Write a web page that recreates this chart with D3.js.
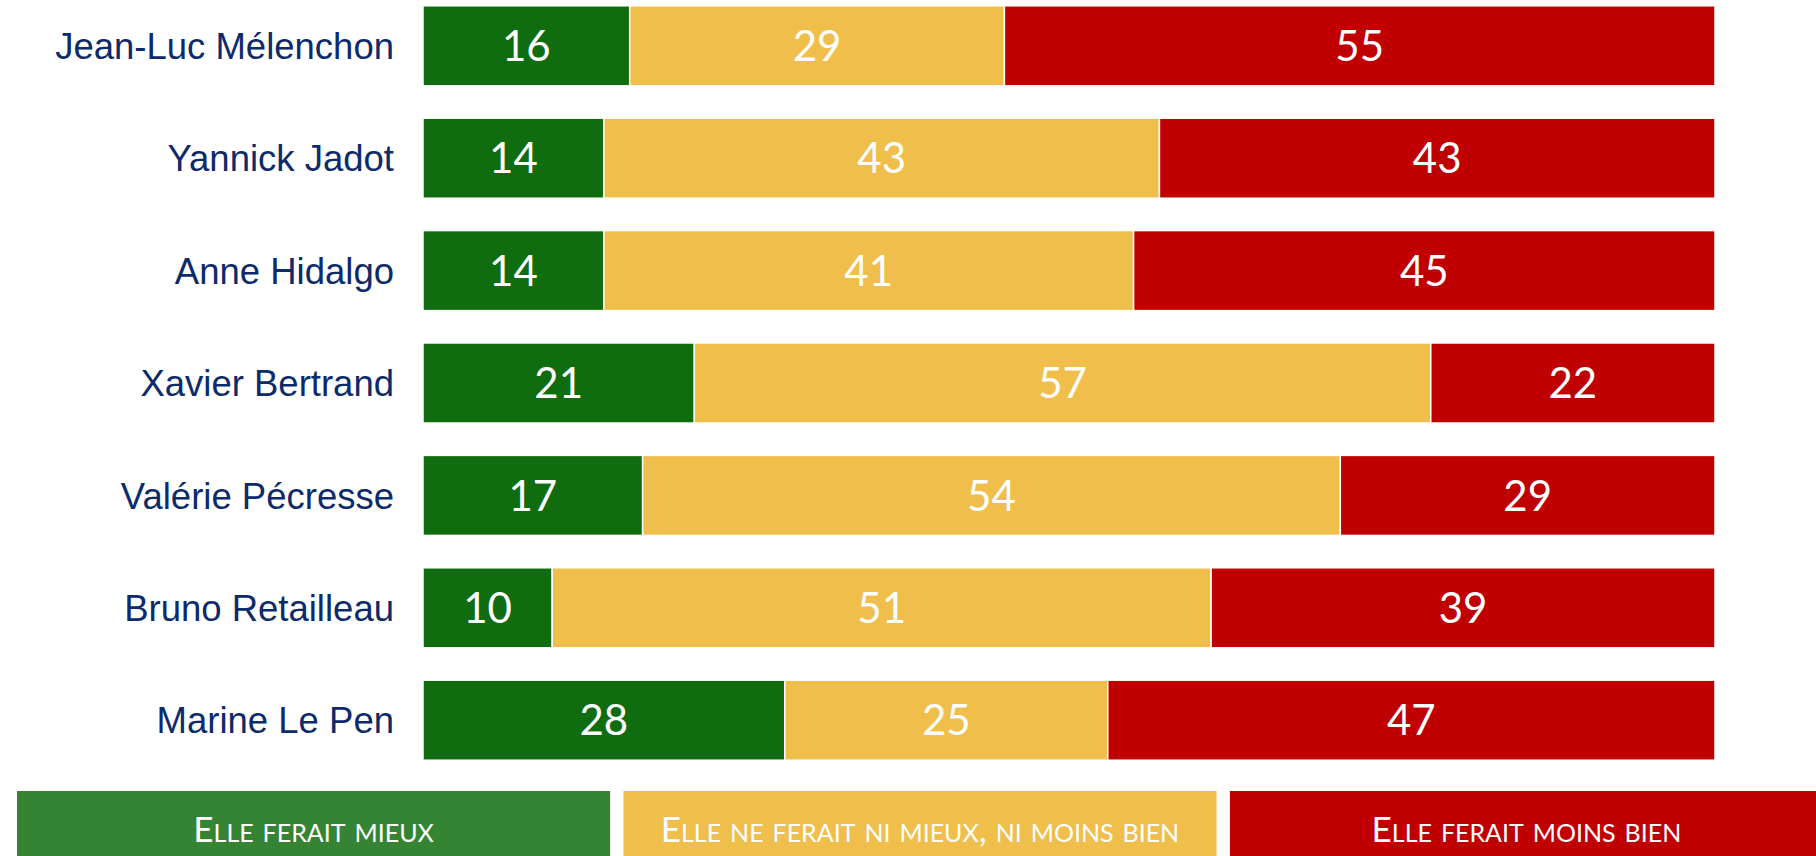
<!DOCTYPE html>
<html>
<head>
<meta charset="utf-8">
<title>Elle ferait mieux / moins bien</title>
<script src="https://d3js.org/d3.v7.min.js"></script>
<style>
    body { margin: 0; background: #fff; }
    svg { display: block; }
</style>
</head>
<body>
<div id="chart"></div>
<script>

// data
var names = ["Jean-Luc Mélenchon", "Yannick Jadot", "Anne Hidalgo", "Xavier Bertrand",
             "Valérie Pécresse", "Bruno Retailleau", "Marine Le Pen"]
var mieux = [16, 14, 14, 21, 17, 10, 28]
var niNi = [29, 43, 41, 57, 54, 51, 25]
var moins = [55, 43, 45, 22, 29, 39, 47]
var seriesKeys = ["mieux", "ni", "moins"]
var seriesLabels = ["Elle ferait mieux", "Elle ne ferait ni mieux, ni moins bien", "Elle ferait moins bien"]

var barColors = { mieux: "#0f6c0f", ni: "#f0be4b", moins: "#c00000" }
var legendColors = { mieux: "#348434", ni: "#f0be4b", moins: "#c00000" }

const W = 1816, H = 856

const svg = d3.select("#chart")
    .append("svg")
    .attr("width", W)
    .attr("height", H)

// table for the stack
var rows = names.map((n, i) => ({ name: n, mieux: mieux[i], ni: niNi[i], moins: moins[i] }))
var stacked = d3.stack().keys(seriesKeys)(rows)

// scales
var x = d3.scaleLinear().domain([0, 100]).range([423, 1715])
var y = d3.scaleBand()
    .domain(names)
    .range([-10.4, 776.4])
    .paddingInner(0.288)
    .paddingOuter(0.144)

// segments
var layer = svg.selectAll("g.layer")
    .data(stacked)
    .join("g")
    .attr("class", "layer")
    .attr("fill", d => barColors[d.key])

layer.selectAll("rect")
    .data(d => d)
    .join("rect")
    .attr("x", d => x(d[0]))
    .attr("y", d => y(d.data.name))
    .attr("width", d => x(d[1]) - x(d[0]))
    .attr("height", y.bandwidth())
    .attr("stroke", "#fff")
    .attr("stroke-width", 1.5)

// value labels
layer.selectAll("text")
    .data(d => d)
    .join("text")
    .attr("x", d => (x(d[0]) + x(d[1])) / 2)
    .attr("y", d => y(d.data.name) + y.bandwidth() / 2)
    .attr("dy", "0.36em")
    .attr("text-anchor", "middle")
    .style("font-family", "Lato, 'Open Sans', sans-serif")
    .style("font-size", "42px")
    .style("fill", "#fff")
    .text(d => d[1] - d[0])

// category labels
svg.append("g")
    .selectAll("text")
    .data(names)
    .join("text")
    .attr("x", 394)
    .attr("y", d => y(d) + y.bandwidth() / 2)
    .attr("dy", "0.36em")
    .attr("text-anchor", "end")
    .style("font-family", "'Liberation Sans', Arial, sans-serif")
    .style("font-size", "36.5px")
    .style("fill", "#0d2a6a")
    .text(d => d)

// legend boxes along the bottom
var lx = d3.scaleBand()
    .domain(seriesKeys)
    .range([17, 1823])
    .paddingInner(0.022)
    .paddingOuter(0)

var leg = svg.append("g")
    .selectAll("g")
    .data(seriesKeys)
    .join("g")

leg.append("rect")
    .attr("x", d => lx(d))
    .attr("y", 791)
    .attr("width", lx.bandwidth())
    .attr("height", 80)
    .attr("fill", d => legendColors[d])

leg.append("text")
    .attr("x", d => lx(d) + lx.bandwidth() / 2)
    .attr("y", 829)
    .attr("dy", "0.36em")
    .attr("text-anchor", "middle")
    .style("font-family", "Lato, 'Open Sans', sans-serif")
    .style("font-variant", "small-caps")
    .style("font-size", "35px")
    .style("fill", "#fff")
    .text((d, i) => seriesLabels[i])

</script>
</body>
</html>
